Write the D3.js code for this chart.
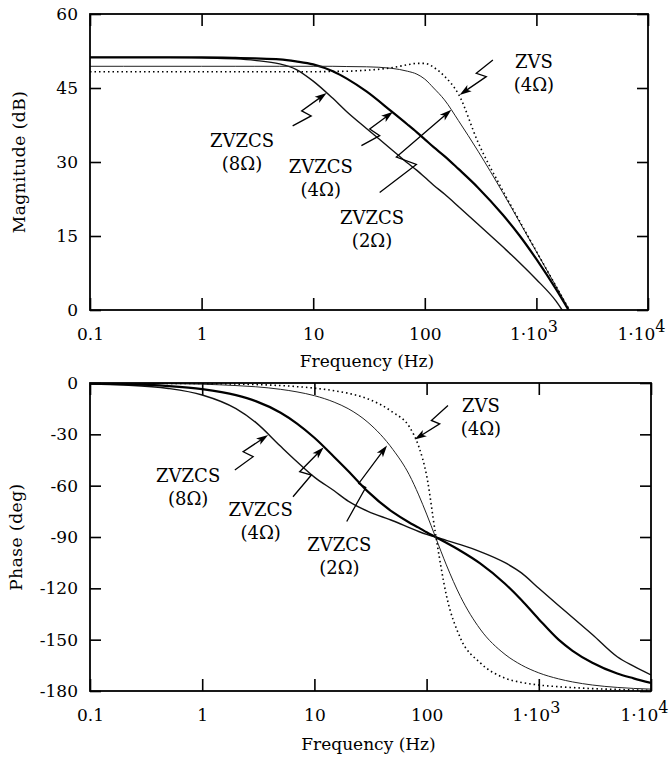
<!DOCTYPE html>
<html>
<head>
<meta charset="utf-8">
<script src="https://cdn.jsdelivr.net/npm/d3@7"></script>
<style>
	body { margin: 0; background: #fff; }
	svg { display: block; }
</style>
</head>
<body>
<div id="chart"></div>
<script>
// frequency grids (Hz)
const magFreq = [0.1, 0.2, 0.5, 1, 2, 3, 5, 7, 10, 15, 20, 30, 50, 70, 85, 100, 120, 150, 200, 300, 500, 700, 1000, 1500, 2000];
const phaseFreq = [0.1, 0.2, 0.5, 1, 2, 3, 5, 7, 10, 15, 20, 30, 50, 70, 85, 100, 120, 150, 200, 300, 500, 700, 1000, 1500, 2000, 3000, 5000, 7000, 10000];

// magnitude (dB)
const magZvzcs8 = [51.2, 51.2, 51.2, 51.1, 50.9, 50.6, 49.9, 48.8, 46.4, 42.9, 40.2, 36.8, 32.6, 29.8, 28.3, 26.9, 25.3, 23.5, 21.0, 17.4, 12.8, 9.7, 6.2, 1.8, -2.5];
const magZvzcs4 = [51.2, 51.2, 51.2, 51.2, 51.1, 51.0, 50.8, 50.4, 49.8, 48.4, 46.9, 44.3, 40.3, 37.6, 36.0, 34.6, 33.0, 31.2, 28.6, 24.8, 19.3, 15.2, 10.3, 4.2, -0.5];
const magZvzcs2 = [49.4, 49.4, 49.4, 49.4, 49.4, 49.4, 49.4, 49.4, 49.4, 49.4, 49.35, 49.3, 49.0, 48.4, 47.8, 46.8, 45.0, 42.6, 38.4, 32.2, 23.8, 18.0, 11.8, 4.8, -0.2];
const magZvs4 = [48.3, 48.3, 48.3, 48.3, 48.3, 48.3, 48.3, 48.3, 48.3, 48.35, 48.4, 48.6, 49.1, 49.7, 50.0, 50.0, 49.2, 47.4, 43.8, 34.0, 24.2, 18.2, 11.9, 4.8, -0.2];

// phase (deg)
const phZvzcs8 = [-0.6, -1.2, -3.2, -7, -15, -23, -37, -46, -55, -63, -69, -75, -80.5, -84.5, -86.8, -88.5, -90, -92, -94.5, -98.5, -105, -111, -120, -130, -137, -147, -160, -165.5, -170.6];
const phZvzcs4 = [-0.4, -0.7, -1.8, -3.6, -7.1, -10.6, -17.4, -23.7, -32, -43.2, -51.4, -63.5, -75.5, -81.5, -84.5, -87.2, -90, -93.4, -98, -105.4, -117.3, -126.8, -138, -150, -156.5, -163.5, -169.8, -172.6, -175.3];
const phZvzcs2 = [-0.1, -0.2, -0.4, -0.7, -1.5, -2.2, -3.7, -5.2, -7.4, -11.2, -15, -23, -38.8, -53.6, -65.4, -76.6, -90, -106.3, -124.7, -143.8, -158.6, -164.8, -169.4, -172.9, -174.7, -176.5, -177.9, -178.5, -178.9];
const phZvs4 = [0, -0.1, -0.2, -0.3, -0.6, -0.9, -1.5, -2.1, -3, -4.5, -6, -9.3, -17.1, -25.5, -37, -54, -88, -124, -149, -163.5, -172.5, -175, -176.5, -177.5, -178, -178.6, -179.1, -179.4, -179.6];

// axes
const freqTicks = [0.1, 1, 10, 100, 1000, 10000];
const magTicks = [0, 15, 30, 45, 60];
const phaseTicks = [0, -30, -60, -90, -120, -150, -180];

// labels: [name, resistance, label f, label y, tip f, tip y]
const magNotes = [
	["ZVZCS", "(8Ω)", 2.3, 33.1, 13.2, 44.0],
	["ZVZCS", "(4Ω)", 11.7, 27.7, 51.9, 40.2],
	["ZVZCS", "(2Ω)", 33.7, 17.4, 173, 40.6],
	["ZVS", "(4Ω)", 950, 49.0, 205, 43.6]
];
const phaseNotes = [
	["ZVZCS", "(8Ω)", 0.75, -57.9, 3.87, -30.4],
	["ZVZCS", "(4Ω)", 3.32, -77.7, 12.1, -37.6],
	["ZVZCS", "(2Ω)", 16.7, -98.2, 44.4, -36.5],
	["ZVS", "(4Ω)", 305, -16.9, 78.3, -33]
];

const styles = [
	{ width: 1.4, color: "#111", dash: null },
	{ width: 2.2, color: "#000", dash: null },
	{ width: 1.0, color: "#222", dash: null },
	{ width: 1.6, color: "#000", dash: "1.5,3" }
];

// zigzag shape of each pointer, pixel offsets from the tip (tail, bend1, bend2)
const magZig = [
	[[-34, 33], [-15.5, 23], [-25, 18]],
	[[-31.6, 34], [-13.3, 24], [-23.3, 17.4]],
	[[-71.7, 82.7], [-35, 54.7], [-55, 47.4]],
	[[33.3, -35], [16.7, -21.6], [26.7, -18.3]]
];
const phaseZig = [
	[[-33.3, 35], [-15, 21.7], [-25, 16.7]],
	[[-30.7, 49.4], [-12.3, 27.7], [-24, 24.4]],
	[[-40.3, 76], [-21.3, 42], [-28.3, 38]],
	[[33.3, -34], [16.7, -19], [25, -15.6]]
];

const serif = '"DejaVu Serif", serif';
const W = 670, H = 758;
const svg = d3.select("#chart").append("svg").attr("width", W).attr("height", H)
	.style("font-family", serif);

drawPanel({
	id: "mag", left: 90, right: 648, top: 14, bottom: 310,
	yDomain: [0, 60], yTicks: magTicks, yTitle: "Magnitude (dB)", yTitleX: 25,
	freq: magFreq, series: [magZvzcs8, magZvzcs4, magZvzcs2, magZvs4],
	notes: magNotes, zig: magZig, titleY: 367
});

drawPanel({
	id: "phase", left: 90, right: 651, top: 383, bottom: 691,
	yDomain: [-180, 0], yTicks: phaseTicks, yTitle: "Phase (deg)", yTitleX: 22,
	freq: phaseFreq, series: [phZvzcs8, phZvzcs4, phZvzcs2, phZvs4],
	notes: phaseNotes, zig: phaseZig, titleY: 750
});

function drawPanel(p) {
	const x = d3.scaleLog().domain([0.1, 10000]).range([p.left, p.right]);
	const y = d3.scaleLinear().domain(p.yDomain).range([p.bottom, p.top]);
	const g = svg.append("g");

	svg.append("clipPath").attr("id", "clip-" + p.id)
		.append("rect")
		.attr("x", p.left).attr("y", p.top)
		.attr("width", p.right - p.left).attr("height", p.bottom - p.top);

	// bottom axis with labels
	const xAxis = g.append("g")
		.attr("transform", `translate(0,${p.bottom})`)
		.call(d3.axisBottom(x).tickValues(freqTicks).tickSize(-12).tickSizeOuter(0).tickPadding(18)
			.tickFormat(d => d >= 1000 ? "" : String(d)));
	xAxis.selectAll("text").each(function(d) {
		if (d >= 1000) {
			const t = d3.select(this).attr("dx", d > 1000 ? -7 : -3);
			t.append("tspan").text("1·10");
			t.append("tspan").attr("dy", "-0.5em").attr("font-size", 16).text(Math.round(Math.log10(d)));
		}
	});
	g.append("g")
		.attr("transform", `translate(0,${p.top})`)
		.call(d3.axisTop(x).tickValues(freqTicks).tickSize(-12).tickSizeOuter(0).tickFormat(""));
	g.append("g")
		.attr("transform", `translate(${p.left},0)`)
		.call(d3.axisLeft(y).tickValues(p.yTicks).tickSize(-11).tickSizeOuter(0).tickPadding(12)
			.tickFormat(d => String(d)));
	g.append("g")
		.attr("transform", `translate(${p.right},0)`)
		.call(d3.axisRight(y).tickValues(p.yTicks).tickSize(-11).tickSizeOuter(0).tickFormat(""));

	g.selectAll(".domain").remove();
	g.selectAll("g").attr("font-family", serif);
	g.selectAll(".tick line").attr("stroke", "#000").attr("stroke-width", 1.6);
	g.selectAll(".tick text").attr("font-size", 17).attr("fill", "#000");

	// curves
	const line = d3.line()
		.x(d => x(d[0]))
		.y(d => y(d[1]))
		.curve(d3.curveMonotoneX);

	const curves = g.append("g").attr("clip-path", `url(#clip-${p.id})`);
	p.series.forEach((vals, i) => {
		const st = styles[i];
		curves.append("path")
			.datum(p.freq.map((f, j) => [f, vals[j]]))
			.attr("fill", "none")
			.attr("stroke", st.color)
			.attr("stroke-width", st.width)
			.attr("stroke-dasharray", st.dash)
			.attr("d", line);
	});

	// frame
	g.append("rect")
		.attr("x", p.left).attr("y", p.top)
		.attr("width", p.right - p.left).attr("height", p.bottom - p.top)
		.attr("fill", "none").attr("stroke", "#000").attr("stroke-width", 1.8);

	// notes with zigzag pointers
	p.notes.forEach((n, i) => {
		const lx = x(n[2]), ly = y(n[3]);
		const t = g.append("text")
			.attr("x", lx).attr("y", ly)
			.attr("text-anchor", "middle")
			.attr("font-size", 18)
			.attr("font-family", serif);
		t.append("tspan").attr("x", lx).text(n[0]);
		t.append("tspan").attr("x", lx).attr("dy", 23).text(n[1]);

		const tx = x(n[4]), ty = y(n[5]);
		const z = p.zig[i];
		const pts = z.map(o => [tx + o[0], ty + o[1]]);
		const last = pts[pts.length - 1];
		const ang = Math.atan2(ty - last[1], tx - last[0]);
		const ux = Math.cos(ang), uy = Math.sin(ang);
		pts.push([tx - ux * 8, ty - uy * 8]);
		g.append("path")
			.attr("d", d3.line()(pts))
			.attr("fill", "none")
			.attr("stroke", "#000")
			.attr("stroke-width", 1.3);
		const bx = tx - ux * 12, by = ty - uy * 12;
		g.append("path")
			.attr("d", d3.line()([[tx, ty], [bx - uy * 3.8, by + ux * 3.8], [tx - ux * 9, ty - uy * 9], [bx + uy * 3.8, by - ux * 3.8]]) + "Z")
			.attr("fill", "#000");
	});

	// axis titles
	g.append("text")
		.attr("x", (p.left + p.right) / 2 - 2)
		.attr("y", p.titleY)
		.attr("text-anchor", "middle")
		.attr("font-size", 17)
		.attr("font-family", serif)
		.text("Frequency (Hz)");
	g.append("text")
		.attr("transform", `translate(${p.yTitleX},${(p.top + p.bottom) / 2}) rotate(-90)`)
		.attr("text-anchor", "middle")
		.attr("font-size", 17)
		.attr("letter-spacing", 0.5)
		.attr("font-family", serif)
		.text(p.yTitle);
}
</script>
</body>
</html>
